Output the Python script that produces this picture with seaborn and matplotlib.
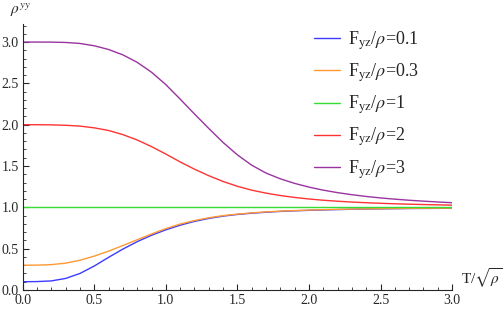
import numpy as np
import pandas as pd
import seaborn as sns
import matplotlib.pyplot as plt

# T / sqrt(rho) sample points
t = [0.0, 0.1, 0.2, 0.3, 0.4, 0.5, 0.6, 0.7, 0.8, 0.9, 1.0,
     1.1, 1.2, 1.3, 1.4, 1.5, 1.6, 1.7, 1.8, 1.9, 2.0,
     2.1, 2.2, 2.3, 2.4, 2.5, 2.6, 2.7, 2.8, 2.9, 3.0]

# rho^yy values
rho_01 = [0.100, 0.102, 0.110, 0.140, 0.200, 0.290, 0.395, 0.495, 0.585, 0.662, 0.728,
          0.784, 0.830, 0.866, 0.894, 0.914, 0.929, 0.941, 0.951, 0.958, 0.964,
          0.969, 0.973, 0.977, 0.980, 0.982, 0.984, 0.986, 0.987, 0.988, 0.989]
rho_03 = [0.300, 0.301, 0.307, 0.325, 0.360, 0.410, 0.470, 0.538, 0.608, 0.678, 0.743,
          0.798, 0.840, 0.874, 0.900, 0.918, 0.933, 0.945, 0.954, 0.961, 0.967,
          0.972, 0.976, 0.979, 0.982, 0.984, 0.986, 0.988, 0.989, 0.990, 0.991]
rho_1 = [1.0] * 31
rho_2 = [2.000, 2.000, 1.998, 1.993, 1.983, 1.962, 1.930, 1.880, 1.815, 1.735, 1.645,
         1.550, 1.462, 1.383, 1.313, 1.255, 1.208, 1.172, 1.143, 1.120, 1.101,
         1.086, 1.074, 1.064, 1.056, 1.049, 1.043, 1.038, 1.034, 1.030, 1.027]
rho_3 = [3.000, 3.000, 2.999, 2.995, 2.983, 2.955, 2.910, 2.845, 2.755, 2.635, 2.485,
         2.310, 2.130, 1.955, 1.785, 1.635, 1.510, 1.415, 1.345, 1.290, 1.245,
         1.208, 1.178, 1.153, 1.132, 1.114, 1.099, 1.086, 1.075, 1.065, 1.056]

labels = [r'F$_{\rm yz}$/$\rho$=0.1', r'F$_{\rm yz}$/$\rho$=0.3', r'F$_{\rm yz}$/$\rho$=1',
          r'F$_{\rm yz}$/$\rho$=2', r'F$_{\rm yz}$/$\rho$=3']
colors = ['#3c3cff', '#ff9933', '#33dd33', '#ff3333', '#9933a0']

series = [rho_01, rho_03, rho_1, rho_2, rho_3]
df = pd.concat([pd.DataFrame({'T': t, 'rho': s, 'F': lab})
                for s, lab in zip(series, labels)], ignore_index=True)

sns.set_style('ticks')
plt.rcParams['font.family'] = ['Liberation Serif', 'DejaVu Serif']
plt.rcParams['mathtext.fontset'] = 'stix'

fig = plt.figure(figsize=(5.04, 3.12), dpi=100)
ax = fig.add_axes([0.045, 0.0705, 0.852, 0.853])

sns.lineplot(data=df, x='T', y='rho', hue='F', hue_order=labels,
             palette=dict(zip(labels, colors)), linewidth=1.0, ax=ax)

ax.set_xlim(0, 3.0)
ax.set_ylim(0, 3.22)
ax.set_xticks(np.arange(0, 3.01, 0.5))
ax.set_yticks(np.arange(0, 3.01, 0.5))
ax.set_xticks(np.arange(0, 3.01, 0.1), minor=True)
ax.set_yticks(np.arange(0, 3.21, 0.1), minor=True)
ax.xaxis.set_major_formatter(plt.FormatStrFormatter('%.1f'))
ax.yaxis.set_major_formatter(plt.FormatStrFormatter('%.1f'))
ax.tick_params(which='major', direction='in', length=4, width=0.8, labelsize=10, pad=3)
ax.tick_params(which='minor', direction='in', length=2, width=0.6)
sns.despine(ax=ax)
for sp in ['left', 'bottom']:
    ax.spines[sp].set_linewidth(0.8)

ax.set_xlabel('')
ax.set_ylabel('')
fig.text(0.02, 0.995, r'$\rho^{yy}$', fontsize=11, va='top', ha='left')
fig.text(0.915, 0.07, r'T/$\sqrt{\rho}$', fontsize=11, va='bottom', ha='left')

ax.legend(loc='upper left', bbox_to_anchor=(0.623, 0.906), bbox_transform=fig.transFigure,
          frameon=False, fontsize=13, handlelength=1.45, handletextpad=0.45,
          labelspacing=0.53, borderpad=0, borderaxespad=0)

fig.savefig('out.png', dpi=100)
